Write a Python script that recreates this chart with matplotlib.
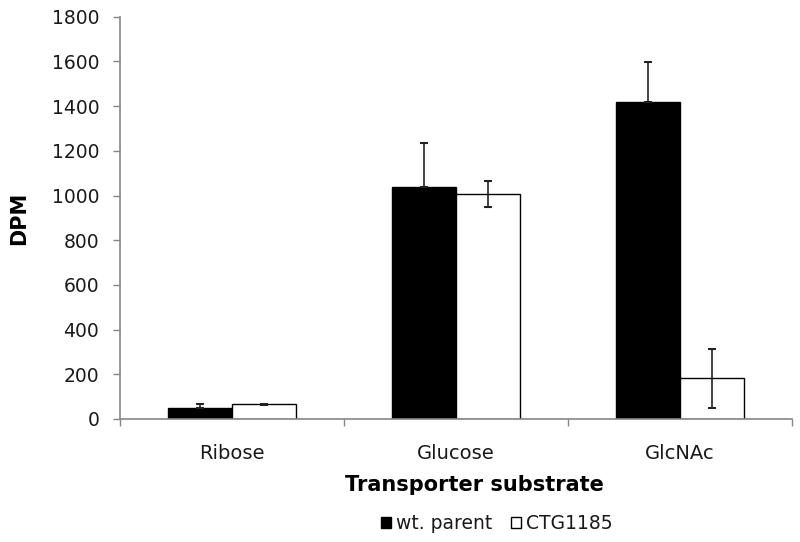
import matplotlib.pyplot as plt
import numpy as np

# data
substrates = ['Ribose', 'Glucose', 'GlcNAc']
wt_parent = [49, 1036, 1420]
wt_err = [18, 197, 176]
ctg1185 = [65, 1006, 182]
ctg_err = [4, 58, 133]

plt.rcParams['font.family'] = ['DejaVu Sans']

fig = plt.figure(figsize=(8, 5.42), dpi=100)
ax = fig.add_axes([0.15, 0.227, 0.84, 0.742])

x = np.arange(len(substrates))
w = 0.285
axis_grey = '#868686'
txt = '#1a1a1a'

ax.bar(x - w / 2, wt_parent, w, color='black', edgecolor='black',
       linewidth=1, label='wt. parent', zorder=2)
ax.bar(x + w / 2, ctg1185, w, color='white', edgecolor='black',
       linewidth=1, label='CTG1185', zorder=2)
# black bars only show the upper half of the error bar
ax.errorbar(x - w / 2, wt_parent, yerr=[np.zeros(len(wt_err)), wt_err],
            fmt='none', ecolor='#222222', elinewidth=1.2, capsize=3,
            capthick=1.5, zorder=3)
ax.errorbar(x + w / 2, ctg1185, yerr=ctg_err, fmt='none', ecolor='#222222',
            elinewidth=1.2, capsize=3, capthick=1.5, zorder=3)

ax.set_xlim(-0.5, len(substrates) - 0.5)
ax.set_ylim(0, 1800)
ax.set_yticks(np.arange(0, 1801, 200))

ax.set_xticks(x)
ax.set_xticklabels(substrates, fontsize=14, color=txt)
ax.set_xticks(np.arange(-0.5, len(substrates), 1), minor=True)
ax.tick_params(axis='x', which='major', length=0, pad=18)
ax.tick_params(axis='x', which='minor', length=5, color=axis_grey, width=1)
ax.tick_params(axis='y', length=5, color=axis_grey, width=1, pad=10,
               labelsize=13.5, labelcolor=txt)

for s in ['top', 'right']:
    ax.spines[s].set_visible(False)
for s in ['left', 'bottom']:
    ax.spines[s].set_color(axis_grey)
    ax.spines[s].set_linewidth(1.2)

ax.set_ylabel('DPM', fontsize=15, fontweight='bold', color='black')
ax.yaxis.set_label_coords(-0.135, 0.5)
ax.set_xlabel('Transporter substrate', fontsize=15, fontweight='bold', color='black')
ax.xaxis.set_label_coords(0.527, -0.14)

ax.legend(loc='center', bbox_to_anchor=(0.56, -0.26), ncol=2,
          frameon=False, fontsize=13.5, handlelength=0.55, handleheight=0.55,
          handletextpad=0.25, columnspacing=1.0, labelcolor=txt)

fig.savefig('out.png', dpi=100)
